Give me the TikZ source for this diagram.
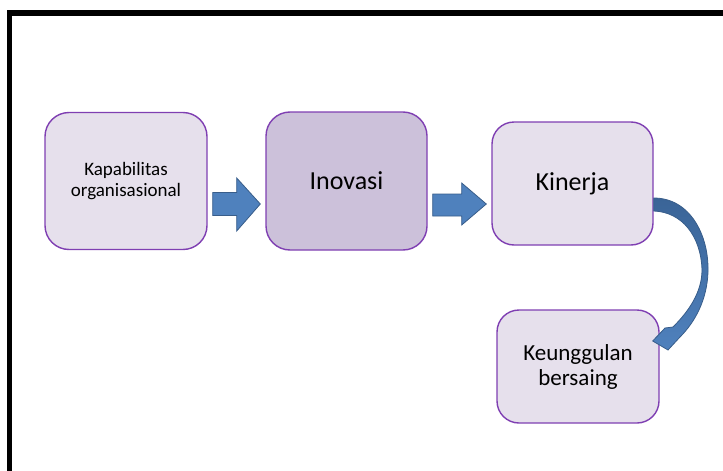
\documentclass[tikz,border=0pt]{standalone}
\usepackage{fontspec}
\setmainfont{Carlito}
\usetikzlibrary{calc}
\definecolor{boxfill}{HTML}{E6E0EC}
\definecolor{boxfilldark}{HTML}{CCC1DA}
\definecolor{boxline}{HTML}{7F3FB2}
\definecolor{arrfill}{HTML}{4F81BD}
\definecolor{arrline}{HTML}{385D8A}
\definecolor{arrdark}{HTML}{3A6497}
\tikzset{
  box/.style={draw=boxline, line width=1.4pt, fill=boxfill, rounded corners=24pt, align=center, inner sep=2pt},
  blockarrow/.style={draw=arrline, line width=0.8pt, fill=arrfill, line join=miter},
}
\begin{document}
\begin{tikzpicture}[x=1pt,y=-1pt]
\useasboundingbox (0,0) rectangle (723,471);
% frame
\fill[black] (7,10) rectangle (723,16);
\fill[black] (7,10) rectangle (12,471);
% boxes
\node[box, minimum width=162pt, minimum height=137pt, font=\fontsize{19}{20.5}\selectfont] (b1) at (126,181) {Kapabilitas\\organisasional};
\node[box, fill=boxfilldark, minimum width=161pt, minimum height=138pt, font=\fontsize{26}{30}\selectfont] (b2) at (346.5,181) {Inovasi};
\node[box, rounded corners=22pt, minimum width=161pt, minimum height=123pt, font=\fontsize{26}{30}\selectfont] (b3) at (572.5,183.5) {Kinerja};
\node[box, rounded corners=22pt, minimum width=162pt, minimum height=113pt, font=\fontsize{23}{25}\selectfont] (b4) at (578,366.5) {Keunggulan\\bersaing};
% straight block arrows
\draw[blockarrow] ($(b1.east)+(5,11.5)$) -- ++(24,0) -- ++(0,-14.5) -- ($(b2.west)+(-5,23)$)
  -- ($(b1.east)+(29,50)$) -- ++(0,-15.5) -- ++(-24,0) -- cycle;
\draw[blockarrow] ($(b2.east)+(5,13)$) -- ++(29,0) -- ++(0,-11) -- ($(b3.west)+(-5,20.5)$)
  -- ($(b2.east)+(34,44)$) -- ++(0,-9) -- ++(-29,0) -- cycle;
% curved arrow
\coordinate (cs1) at ($(b3.east)+(0,14.5)$);
\coordinate (cs2) at ($(b3.east)+(0,27.5)$);
\coordinate (ct) at ($(b4.east)+(-7,-25.5)$);
\draw[draw=arrline, line width=0.8pt, top color=arrdark, bottom color=arrfill, line join=miter]
  (cs1) .. controls (690,198) and (709,235) .. (708,272)
  .. controls (707,300) and (695,322) .. (680,337)
  -- (668,350) -- (ct) -- (665,328) -- (673,327)
  .. controls (689,311) and (702,292) .. (702,270)
  .. controls (701,236) and (682,212) .. (cs2) -- cycle;
\end{tikzpicture}
\end{document}
